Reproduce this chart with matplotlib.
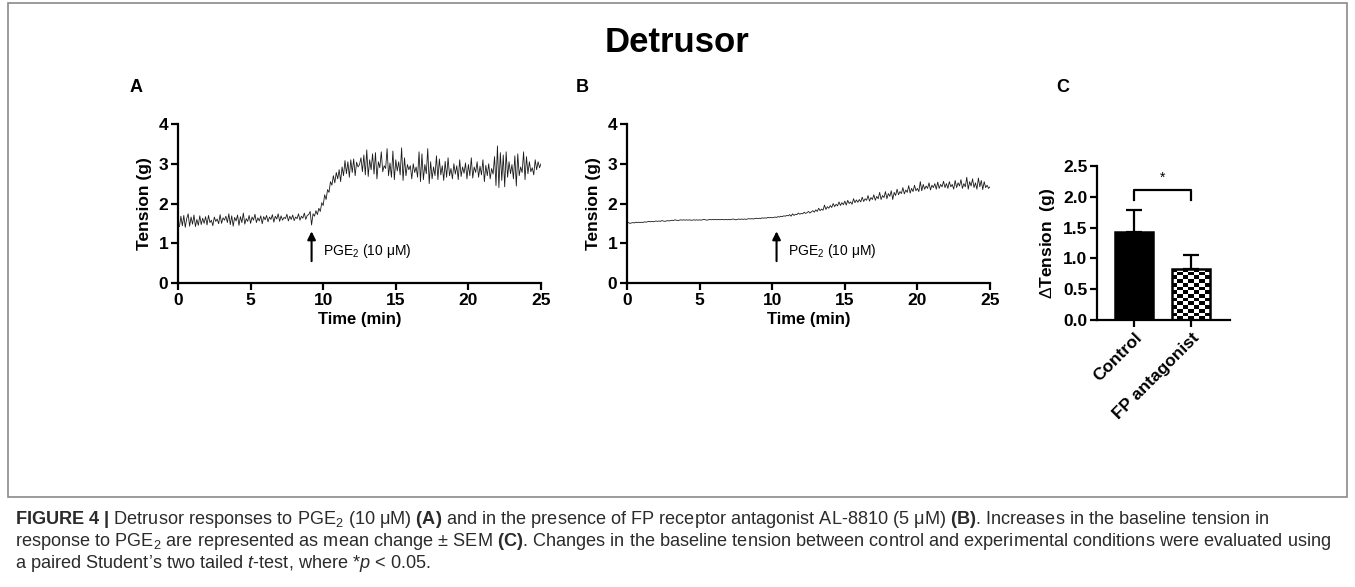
import numpy as np
import matplotlib
matplotlib.use('Agg')
import matplotlib.pyplot as plt
from matplotlib import font_manager
from matplotlib.patches import Rectangle

names = {f.name for f in font_manager.fontManager.ttflist}
narrow = 'Liberation Sans Narrow' if 'Liberation Sans Narrow' in names else 'Liberation Sans'

plt.rcParams['font.family'] = ['Liberation Sans', 'DejaVu Sans']
plt.rcParams['mathtext.fontset'] = 'custom'
plt.rcParams['mathtext.rm'] = narrow
plt.rcParams['mathtext.it'] = narrow + ':italic'
plt.rcParams['mathtext.bf'] = narrow + ':bold'
plt.rcParams['mathtext.sf'] = 'Liberation Sans'

# ---- data ----
time_min = np.linspace(0, 25, 251)   # sampling every 0.1 min

trace_a = [
    1.45, 1.42, 1.68, 1.44, 1.70, 1.40, 1.62, 1.74, 1.43, 1.66,
    1.48, 1.71, 1.42, 1.60, 1.45, 1.69, 1.47, 1.63, 1.50, 1.67,
    1.46, 1.70, 1.52, 1.58, 1.44, 1.66, 1.55, 1.61, 1.49, 1.72,
    1.50, 1.64, 1.58, 1.68, 1.52, 1.74, 1.47, 1.69, 1.43, 1.65,
    1.56, 1.71, 1.45, 1.67, 1.52, 1.76, 1.48, 1.62, 1.55, 1.70,
    1.50, 1.66, 1.58, 1.73, 1.52, 1.64, 1.56, 1.69, 1.49, 1.67,
    1.59, 1.70, 1.54, 1.66, 1.60, 1.72, 1.53, 1.68, 1.61, 1.74,
    1.55, 1.69, 1.58, 1.65, 1.62, 1.73, 1.56, 1.68, 1.60, 1.71,
    1.57, 1.66, 1.62, 1.74, 1.58, 1.68, 1.63, 1.76, 1.60, 1.70,
    1.72, 1.80, 1.46, 1.74, 1.68, 1.82, 1.72, 1.88, 1.80, 2.02,
    1.95, 2.22, 2.10, 2.35, 2.28, 2.55, 2.46, 2.70, 2.52, 2.78,
    2.62, 2.85, 2.55, 2.92, 2.70, 3.08, 2.75, 3.05, 2.66, 3.10,
    2.78, 3.12, 2.70, 3.04, 2.92, 2.98, 3.15, 2.80, 3.22, 2.72,
    3.35, 2.68, 3.10, 2.85, 3.25, 2.74, 3.28, 2.62, 3.05, 2.90,
    3.30, 2.80, 2.95, 2.88, 3.38, 2.70, 3.02, 2.66, 3.32, 2.60,
    3.10, 2.82, 3.05, 2.72, 3.40, 2.58, 3.15, 2.70, 2.98, 2.85,
    2.95, 2.62, 3.00, 2.78, 2.92, 2.66, 3.30, 2.55, 3.25, 2.60,
    2.98, 2.75, 3.38, 2.50, 3.05, 2.62, 2.92, 2.70, 3.20, 2.60,
    3.12, 2.72, 2.95, 2.58, 3.06, 2.66, 3.15, 2.70, 2.88, 2.62,
    3.00, 2.74, 2.95, 2.60, 3.10, 2.68, 2.92, 2.76, 3.02, 2.62,
    2.98, 2.70, 3.15, 2.64, 2.92, 2.78, 3.05, 2.66, 2.94, 2.72,
    3.10, 2.55, 2.96, 2.70, 3.00, 2.62, 2.88, 2.74, 3.18, 2.45,
    3.45, 2.40, 3.28, 2.58, 3.22, 2.42, 3.30, 2.66, 3.05, 2.75,
    2.98, 2.62, 3.20, 2.44, 3.25, 2.70, 2.92, 2.78, 3.30, 2.60,
    3.18, 2.75, 3.05, 2.80, 2.90, 2.72, 3.10, 2.85, 3.05, 2.90,
    3.00,
]

trace_b = [
    1.51, 1.52, 1.50, 1.51, 1.52, 1.51, 1.53, 1.52, 1.53, 1.52,
    1.53, 1.52, 1.54, 1.53, 1.54, 1.55, 1.54, 1.55, 1.54, 1.55,
    1.56, 1.55, 1.56, 1.55, 1.57, 1.56, 1.55, 1.56, 1.57, 1.56,
    1.57, 1.58, 1.57, 1.59, 1.58, 1.57, 1.58, 1.59, 1.58, 1.59,
    1.58, 1.59, 1.58, 1.59, 1.58, 1.58, 1.59, 1.58, 1.59, 1.58,
    1.59, 1.58, 1.59, 1.60, 1.59, 1.58, 1.59, 1.60, 1.59, 1.60,
    1.59, 1.60, 1.59, 1.60, 1.59, 1.60, 1.60, 1.59, 1.60, 1.59,
    1.60, 1.59, 1.60, 1.61, 1.60, 1.59, 1.60, 1.61, 1.60, 1.61,
    1.60, 1.61, 1.60, 1.61, 1.62, 1.61, 1.62, 1.61, 1.62, 1.63,
    1.62, 1.63, 1.62, 1.64, 1.63, 1.64, 1.63, 1.65, 1.64, 1.65,
    1.64, 1.65, 1.66, 1.65, 1.67, 1.66, 1.68, 1.67, 1.69, 1.68,
    1.70, 1.69, 1.72, 1.68, 1.74, 1.70, 1.73, 1.72, 1.76, 1.73,
    1.75, 1.74, 1.78, 1.75, 1.77, 1.80, 1.76, 1.79, 1.82, 1.78,
    1.84, 1.80, 1.88, 1.82, 1.86, 1.83, 1.96, 1.85, 1.92, 1.88,
    1.95, 1.90, 2.00, 1.92, 1.98, 1.94, 2.04, 1.95, 2.02, 1.97,
    2.06, 1.96, 2.08, 2.00, 2.04, 1.98, 2.12, 2.02, 2.09, 2.03,
    2.10, 2.04, 2.16, 2.05, 2.12, 2.08, 2.20, 2.06, 2.15, 2.10,
    2.22, 2.08, 2.18, 2.12, 2.28, 2.10, 2.20, 2.15, 2.30, 2.12,
    2.25, 2.18, 2.32, 2.10, 2.28, 2.20, 2.36, 2.22, 2.30, 2.25,
    2.40, 2.24, 2.34, 2.28, 2.45, 2.26, 2.38, 2.30, 2.46, 2.32,
    2.38, 2.30, 2.55, 2.32, 2.48, 2.36, 2.44, 2.38, 2.52, 2.34,
    2.46, 2.40, 2.50, 2.36, 2.54, 2.38, 2.48, 2.42, 2.56, 2.40,
    2.50, 2.38, 2.55, 2.42, 2.48, 2.36, 2.58, 2.40, 2.52, 2.44,
    2.60, 2.38, 2.50, 2.42, 2.66, 2.36, 2.55, 2.44, 2.62, 2.40,
    2.52, 2.36, 2.64, 2.42, 2.58, 2.35, 2.55, 2.40, 2.46, 2.38,
    2.42,
]

drug_time_a = 9.2
drug_time_b = 10.3

groups = ['Control', 'FP antagonist']
delta_mean = [1.43, 0.835]
delta_sem = [0.36, 0.215]
sig_star = '*'

# ---- figure ----
W, H = 1355, 587
fig = plt.figure(figsize=(W / 100, H / 100), dpi=100)

def box(l, t, r, b):
    return [l / W, 1 - b / H, (r - l) / W, (b - t) / H]

fig.patches.append(Rectangle((8 / W, 1 - 497 / H), 1339 / W, 494 / H,
                             transform=fig.transFigure, fill=False,
                             edgecolor='#8a8a8a', lw=1.2))

fig.text(677 / W, 1 - 42 / H, 'Detrusor', ha='center', va='center',
         fontsize=25, fontweight='bold')
for lab, xp in [('A', 136), ('B', 582), ('C', 1063)]:
    fig.text(xp / W, 1 - 87 / H, lab, ha='center', va='center',
             fontsize=13, fontweight='bold')


def style(ax):
    for s in ['top', 'right']:
        ax.spines[s].set_visible(False)
    for s in ['left', 'bottom']:
        ax.spines[s].set_linewidth(1.6)
    ax.tick_params(width=1.6, length=5, labelsize=12.5, pad=2)
    for t in ax.get_xticklabels() + ax.get_yticklabels():
        t.set_fontweight('bold')


def trace_panel(ax, y, t_drug):
    ax.plot(time_min, y, color='#1a1a1a', lw=0.6)
    ax.set_xlim(0, 25)
    ax.set_ylim(0, 4)
    ax.set_xticks([0, 5, 10, 15, 20, 25])
    ax.set_yticks([0, 1, 2, 3, 4])
    ax.set_xlabel('Time (min)', fontsize=12, fontweight='bold', labelpad=3)
    ax.set_ylabel('Tension (g)', fontsize=12.5, fontweight='bold', labelpad=5)
    ax.annotate('', xy=(t_drug, 1.3), xytext=(t_drug, 0.55),
                arrowprops=dict(arrowstyle='-|>', color='black', lw=1.5,
                                mutation_scale=12, shrinkA=0, shrinkB=0))
    ax.text(t_drug + 0.8, 0.8, r'PGE$_{\mathsf{2}}$ (10 μM)', fontsize=10,
            va='center', ha='left')
    style(ax)


ax_a = fig.add_axes(box(178, 124, 541, 283))
trace_panel(ax_a, trace_a, drug_time_a)

ax_b = fig.add_axes(box(627, 124, 990, 283))
trace_panel(ax_b, trace_b, drug_time_b)

# ---- panel C ----
ax_c = fig.add_axes(box(1097, 166, 1230, 320))
xpos = np.arange(len(groups))
bars = ax_c.bar(xpos, delta_mean, width=0.66, color=['black', 'none'],
                edgecolor='black', linewidth=1.8, zorder=3)
ax_c.errorbar(xpos, delta_mean, yerr=[[0, 0], delta_sem], fmt='none',
              ecolor='black', elinewidth=1.6, capsize=6, capthick=1.6, zorder=2)
pb = bars[1]
checker = np.indices((14, 7)).sum(axis=0) % 2
im = ax_c.imshow(checker, cmap='gray', interpolation='nearest', aspect='auto',
                 extent=(pb.get_x(), pb.get_x() + pb.get_width(), 0, pb.get_height()),
                 zorder=2.5)
im.set_clip_path(pb)

ax_c.plot([0, 0, 1, 1], [1.94, 2.11, 2.11, 1.94], color='black', lw=1.6)
ax_c.text(0.5, 2.2, sig_star, ha='center', va='bottom', fontsize=10)

ax_c.set_xlim(-0.65, 1.68)
ax_c.set_ylim(0, 2.5)
ax_c.set_yticks([0, 0.5, 1.0, 1.5, 2.0, 2.5])
ax_c.set_yticklabels(['0.0', '0.5', '1.0', '1.5', '2.0', '2.5'])
ax_c.set_xticks(xpos)
ax_c.set_xticklabels(groups, rotation=45, ha='right', rotation_mode='anchor')
ax_c.set_ylabel(r'$\Delta$Tension  (g)', fontsize=12.5, fontweight='bold', labelpad=4)
style(ax_c)

# ---- caption ----
cap = [
    r'$\mathbf{FIGURE\ 4\ |}$ Detrusor responses to PGE$_\mathrm{2}$ (10 μM) $\mathbf{(A)}$ and in the presence of FP receptor antagonist AL-8810 (5 μM) $\mathbf{(B)}$. Increases in the baseline tension in',
    r'response to PGE$_\mathrm{2}$ are represented as mean change ± SEM $\mathbf{(C)}$. Changes in the baseline tension between control and experimental conditions were evaluated using',
    r'a paired Student’s two tailed $\mathit{t}$-test, where *$\mathit{p}$ < 0.05.',
]
for i, line in enumerate(cap):
    fig.text(15 / W, 1 - (520 + 21.5 * i) / H, line, ha='left', va='center',
             fontsize=13.1, family=narrow, color='#2b2b2b')

fig.savefig('out.png', dpi=100)
